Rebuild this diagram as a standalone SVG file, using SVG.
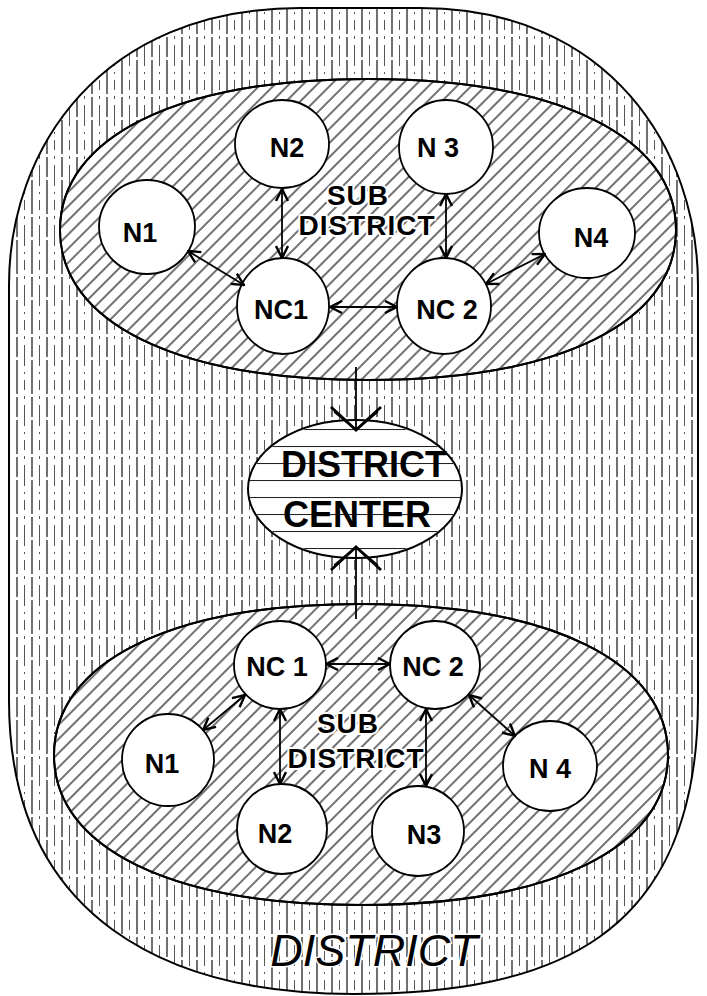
<svg xmlns="http://www.w3.org/2000/svg" width="707" height="996" viewBox="0 0 707 996">
<style>
.outline{stroke:#000;stroke-width:2;}
.node{fill:#fff;stroke:#000;stroke-width:1.8;}
.lbl{font-family:"Liberation Sans",Arial,sans-serif;font-weight:bold;font-size:27px;fill:#000;text-anchor:middle;}
.sub{font-family:"Liberation Sans",Arial,sans-serif;font-weight:bold;font-size:28px;fill:#000;text-anchor:middle;letter-spacing:1px;paint-order:stroke;stroke:#fff;stroke-width:4px;stroke-linejoin:round;}
.dc{font-family:"Liberation Sans",Arial,sans-serif;font-weight:bold;font-size:36px;fill:#000;text-anchor:middle;}
.dist{font-family:"Liberation Sans",Arial,sans-serif;font-style:italic;font-size:45px;fill:#000;text-anchor:middle;paint-order:stroke;stroke:#fff;stroke-width:3px;}
.conn line{stroke:#000;stroke-width:1.8;fill:none;}
.sm{marker-start:url(#ah);marker-end:url(#ah);}
.big{marker-end:url(#bh);}
</style>
<defs>
<pattern id="vh" width="15" height="60" patternUnits="userSpaceOnUse">
<line x1="2" y1="0" x2="2" y2="60" stroke="#111" stroke-width="1.2" stroke-dasharray="34 3 20 3"/>
<line x1="9.5" y1="0" x2="9.5" y2="60" stroke="#444" stroke-width="0.9" stroke-dasharray="6 6 2 6 10 6 3 6 15 0"/>
</pattern>
<pattern id="dh" width="10" height="10" patternUnits="userSpaceOnUse" patternTransform="rotate(45)">
<line x1="4" y1="0" x2="4" y2="10" stroke="#111" stroke-width="1.2"/>
</pattern>
<pattern id="hh" width="20" height="17" patternUnits="userSpaceOnUse" y="446">
<line x1="0" y1="0.5" x2="20" y2="0.5" stroke="#222" stroke-width="1.1"/>
</pattern>
<marker id="ah" viewBox="0 0 14 14" refX="13" refY="7" markerWidth="14" markerHeight="14" markerUnits="userSpaceOnUse" orient="auto-start-reverse">
<path d="M1,1 L13,7 L1,13" fill="none" stroke="#000" stroke-width="2.4"/>
</marker>
<marker id="bh" viewBox="0 0 28 56" refX="25" refY="28" markerWidth="28" markerHeight="56" markerUnits="userSpaceOnUse" orient="auto">
<path d="M2,3 L25,28 L2,53" fill="none" stroke="#000" stroke-width="2.8"/>
<path d="M7,6 L22,24 M7,50 L22,32" fill="none" stroke="#000" stroke-width="1.2"/>
</marker>
</defs>
<rect width="707" height="996" fill="#fff"/>

<g id="district">
<path class="outline" fill="url(#vh)" d="M9,285 C9,150 100,8 300,8 L420,8 C610,8 698,150 698,285 L698,700 C698,940 550,994 353,994 C170,994 9,920 9,700 Z"/>
<text class="dist" x="374" y="966">DISTRICT</text>
</g>

<g id="subdistrict-upper">
<path class="outline" fill="#fff" d="M60,230 C60,137 177,79 368,79 C559,79 676,137 676,230 C676,323 559,380 368,380 C177,380 60,323 60,230 Z"/>
<path class="outline" fill="url(#dh)" d="M60,230 C60,137 177,79 368,79 C559,79 676,137 676,230 C676,323 559,380 368,380 C177,380 60,323 60,230 Z"/>
<text class="sub" x="358" y="205">SUB</text>
<text class="sub" x="367" y="235">DISTRICT</text>
</g>

<g id="subdistrict-lower">
<path class="outline" fill="#fff" d="M54,755 C54,662 171,604 361,604 C551,604 668,662 668,755 C668,848 551,905 361,905 C171,905 54,848 54,755 Z"/>
<path class="outline" fill="url(#dh)" d="M54,755 C54,662 171,604 361,604 C551,604 668,662 668,755 C668,848 551,905 361,905 C171,905 54,848 54,755 Z"/>
<text class="sub" x="348" y="733">SUB</text>
<text class="sub" x="356" y="768">DISTRICT</text>
</g>

<g id="district-center">
<ellipse class="outline" fill="#fff" cx="355" cy="489" rx="107" ry="69"/>
<ellipse fill="url(#hh)" cx="355" cy="489" rx="106" ry="68"/>
<text class="dc" x="364" y="477">DISTRICT</text>
<text class="dc" x="357" y="527">CENTER</text>
</g>

<g id="u-n1"><ellipse class="node" cx="147" cy="227" rx="48" ry="47"/><text class="lbl" x="140" y="242">N1</text></g>
<g id="u-n2"><ellipse class="node" cx="282" cy="144" rx="47" ry="44"/><text class="lbl" x="287" y="157">N2</text></g>
<g id="u-n3"><ellipse class="node" cx="446" cy="147" rx="47" ry="47"/><text class="lbl" x="438" y="157">N 3</text></g>
<g id="u-n4"><ellipse class="node" cx="587" cy="233" rx="48" ry="45"/><text class="lbl" x="591" y="247">N4</text></g>
<g id="u-nc1"><ellipse class="node" cx="283" cy="306" rx="46" ry="48"/><text class="lbl" x="281" y="319">NC1</text></g>
<g id="u-nc2"><ellipse class="node" cx="444" cy="306" rx="47" ry="48"/><text class="lbl" x="447" y="319">NC 2</text></g>

<g id="l-nc1"><ellipse class="node" cx="280" cy="665" rx="46" ry="44"/><text class="lbl" x="277" y="676">NC 1</text></g>
<g id="l-nc2"><ellipse class="node" cx="435" cy="665" rx="45" ry="44"/><text class="lbl" x="433" y="676">NC 2</text></g>
<g id="l-n1"><ellipse class="node" cx="168" cy="760" rx="46" ry="46"/><text class="lbl" x="162" y="773">N1</text></g>
<g id="l-n2"><ellipse class="node" cx="282" cy="829" rx="45" ry="45"/><text class="lbl" x="275" y="843">N2</text></g>
<g id="l-n3"><ellipse class="node" cx="418" cy="831" rx="46" ry="45"/><text class="lbl" x="424" y="844">N3</text></g>
<g id="l-n4"><ellipse class="node" cx="550" cy="766" rx="47" ry="45"/><text class="lbl" x="550" y="778">N 4</text></g>

<g id="connectors" class="conn">
<line class="sm" x1="282" y1="189" x2="282" y2="258"/>
<line class="sm" x1="446" y1="194" x2="446" y2="258"/>
<line class="sm" x1="188" y1="251" x2="244" y2="285"/>
<line class="sm" x1="330" y1="307" x2="397" y2="307"/>
<line class="sm" x1="545" y1="254" x2="486" y2="284"/>
<line class="big" x1="356" y1="367" x2="356" y2="430"/>
<line class="big" x1="356" y1="619" x2="356" y2="547"/>
<line class="sm" x1="326" y1="664" x2="390" y2="664"/>
<line class="sm" x1="245" y1="695" x2="203" y2="730"/>
<line class="sm" x1="280" y1="709" x2="280" y2="784"/>
<line class="sm" x1="426" y1="709" x2="426" y2="786"/>
<line class="sm" x1="469" y1="695" x2="515" y2="736"/>
</g>
</svg>
